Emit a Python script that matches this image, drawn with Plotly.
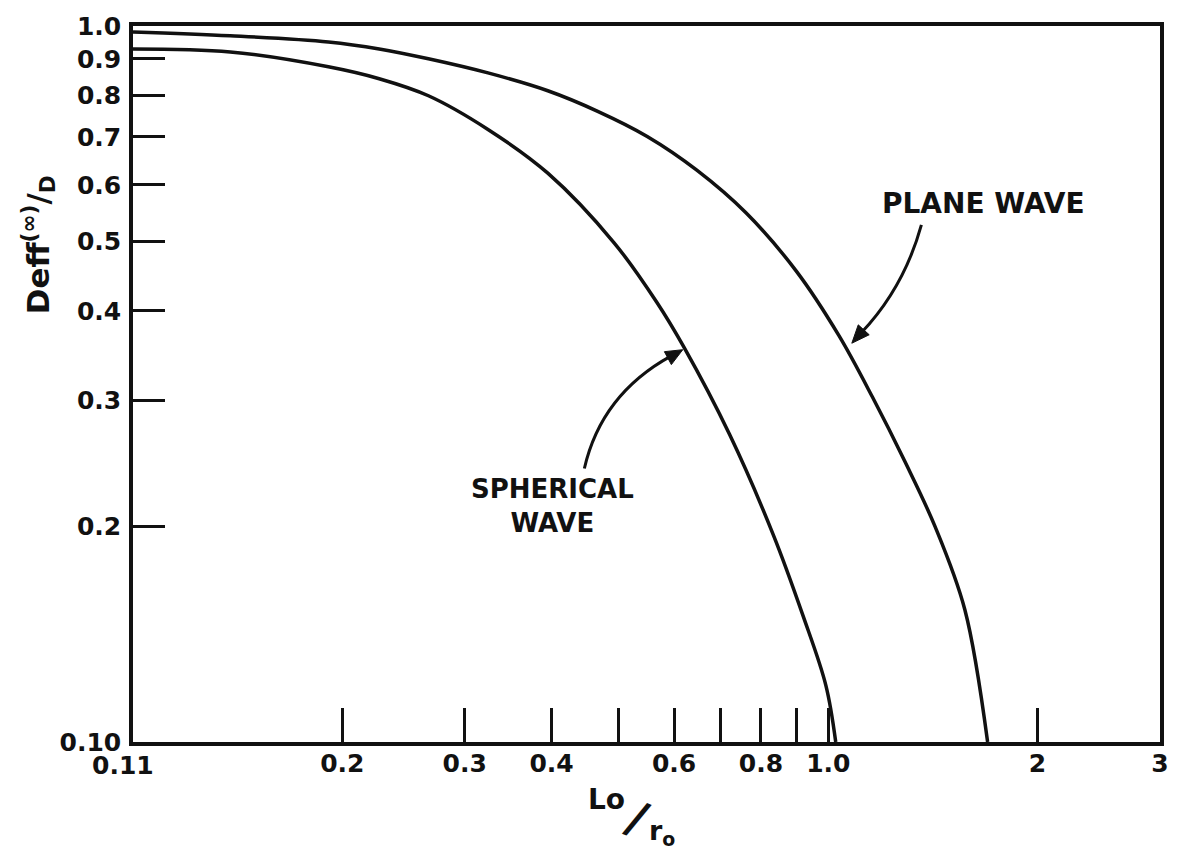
import plotly.graph_objects as go

# ---- data ----
x_plane = [0.10, 0.138, 0.191, 0.226, 0.266, 0.324, 0.395, 0.466, 0.549, 0.647, 0.762,
           0.899, 1.035, 1.158, 1.290, 1.424, 1.572, 1.695]
y_plane = [0.981, 0.969, 0.950, 0.929, 0.900, 0.860, 0.812, 0.760, 0.701, 0.629, 0.548,
           0.455, 0.370, 0.303, 0.246, 0.200, 0.153, 0.100]

x_spherical = [0.10, 0.138, 0.191, 0.226, 0.266, 0.324, 0.395, 0.492, 0.567, 0.620, 0.721,
               0.833, 0.920, 0.992, 1.025]
y_spherical = [0.929, 0.920, 0.877, 0.844, 0.799, 0.717, 0.623, 0.498, 0.411, 0.356, 0.269,
               0.195, 0.150, 0.120, 0.100]

xtick_vals = [0.2, 0.3, 0.4, 0.6, 0.8, 1.0, 2, 3]
xtick_text = ["0.2", "0.3", "0.4", "0.6", "0.8", "1.0", "2", "3"]
xtick_unlabeled = [0.5, 0.7, 0.9]
ytick_vals = [0.1, 0.2, 0.3, 0.4, 0.5, 0.6, 0.7, 0.8, 0.9, 1.0]
ytick_text = ["0.10", "0.2", "0.3", "0.4", "0.5", "0.6", "0.7", "0.8", "0.9", "1.0"]

INK = "#111111"
FONT = "DejaVu Sans"

# plot-area geometry (pixels)
W, H = 1181, 855
L, R, T, B = 133, 1166, 22, 742


def px(x):
    return (x - L) / (R - L)


def py(y):
    return (B - y) / (B - T)


fig = go.Figure()
for xs, ys in ((x_plane, y_plane), (x_spherical, y_spherical)):
    fig.add_trace(go.Scatter(
        x=xs, y=ys, mode="lines",
        line=dict(color=INK, width=3.5, shape="spline", smoothing=1.0),
        showlegend=False, hoverinfo="skip",
    ))

axis_common = dict(
    type="log", showline=True, linewidth=3.5, linecolor=INK, mirror=True,
    ticks="inside", tickwidth=3, tickcolor=INK, showgrid=False, zeroline=False,
    tickfont=dict(family=FONT, size=25, color=INK, weight="bold"),
    tickmode="array",
)

fig.update_xaxes(
    **axis_common,
    range=[-1, 0.47712125472],
    tickvals=xtick_vals, ticktext=xtick_text, ticklen=34,
    ticklabelstandoff=-4,
    minor=dict(tickmode="array", tickvals=xtick_unlabeled, ticks="inside",
               ticklen=34, tickwidth=3, tickcolor=INK, showgrid=False),
)
fig.update_yaxes(
    **axis_common,
    range=[-1, 0],
    tickvals=ytick_vals, ticktext=ytick_text, ticklen=32,
    ticklabelstandoff=3,
)

annotations = [
    # extra x label at the left end
    dict(x=px(123), y=py(766), text="0.11", font=dict(size=25, weight="bold")),
    # curve labels
    dict(x=px(988), y=py(200), text="PLANE WAVE", font=dict(size=28, weight="bold")),
    dict(x=px(555), y=py(505), text="SPHERICAL<br>WAVE", font=dict(size=26, weight="bold")),
    # x axis title
    dict(x=px(609), y=py(800), text="Lo", font=dict(size=28, weight="bold")),
    dict(x=px(640), y=py(818), text="/", textangle=22, font=dict(size=46, weight="bold")),
    dict(x=px(665), y=py(833), text="r<sub>o</sub>", font=dict(size=27, weight="bold")),
    # y axis title
    dict(x=px(38), y=py(242), text="Deff<sup>(∞)</sup>/<sub>D</sub>", textangle=-90,
         font=dict(size=31, weight="bold")),
]
for a in annotations:
    a.setdefault("xref", "paper")
    a.setdefault("yref", "paper")
    a.setdefault("showarrow", False)
    f = a.setdefault("font", {})
    f.setdefault("family", FONT)
    f.setdefault("color", INK)
    a.setdefault("xanchor", "center")
    a.setdefault("yanchor", "middle")


def tri(tip, base1, base2):
    return (f"M {px(tip[0])},{py(tip[1])} L {px(base1[0])},{py(base1[1])} "
            f"L {px(base2[0])},{py(base2[1])} Z")


shapes = [
    # curved arrow shafts
    dict(type="path", xref="paper", yref="paper",
         path=f"M {px(926)},{py(222)} Q {px(908.5)},{py(285)} {px(866)},{py(330)}",
         line=dict(color=INK, width=3)),
    dict(type="path", xref="paper", yref="paper",
         path=f"M {px(587)},{py(467)} Q {px(604)},{py(392.5)} {px(674)},{py(354)}",
         line=dict(color=INK, width=3)),
    # arrowheads
    dict(type="path", xref="paper", yref="paper",
         path=tri((856, 341), (862.5, 322.5), (873.5, 332.5)),
         fillcolor=INK, line=dict(color=INK, width=1)),
    dict(type="path", xref="paper", yref="paper",
         path=tri((686, 347.5), (667.5, 349.5), (674.5, 362.5)),
         fillcolor=INK, line=dict(color=INK, width=1)),
]

fig.update_layout(
    width=W, height=H, autosize=False,
    margin=dict(l=L, r=W - R, t=T, b=H - B, pad=0),
    paper_bgcolor="white", plot_bgcolor="white",
    font=dict(family=FONT, color=INK),
    annotations=annotations, shapes=shapes,
    showlegend=False,
)

fig.write_html("out.html")
